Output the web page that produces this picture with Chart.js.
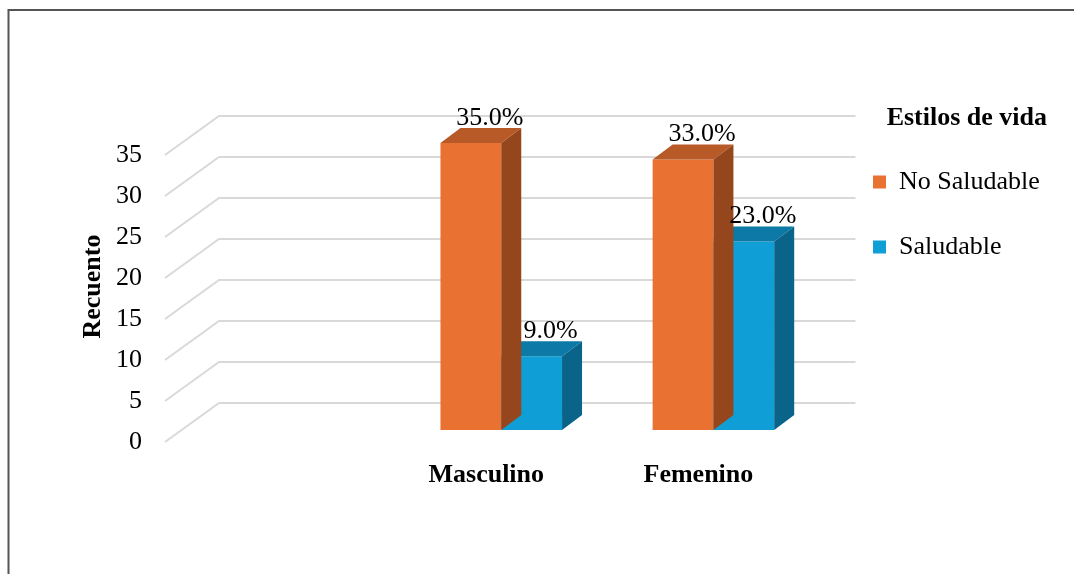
<!DOCTYPE html>
<html>
<head>
<meta charset="utf-8">
<script src="https://cdn.jsdelivr.net/npm/chart.js@4.4.1/dist/chart.umd.min.js"></script>
<style>
  html, body { margin: 0; padding: 0; background: #fff; }
  #wrap { width: 1074px; height: 574px; }
</style>
</head>
<body>
<div id="wrap"><canvas id="chart" width="1074" height="574"></canvas></div>
<script>
// --- datos ---
const categories = ['', 'Masculino', 'Femenino'];
const seriesNames = ['No Saludable', 'Saludable'];
const noSaludable = [null, 35, 33];
const saludable = [null, 9, 23];
const yMin = 0;
const yMax = 35;
const yStep = 5;

// --- colores ---
const ORANGE = '#E97132';
const BLUE = '#0F9ED5';
const SHADES = [
    { top: '#B75A28', side: '#96461C' },
    { top: '#0C79A6', side: '#0A6489' }
];
const GRID_COLOR = '#D9D9D9';
const FONT_SIZE = 26;

// profundidad del "3D"
const FLOOR_FRONT = { dx: -18, dy: 12 };
const FLOOR_BACK = { dx: 36, dy: -27 };
const BAR_DEPTH = { dx: 20, dy: -15 };

Chart.defaults.font.family = "'Liberation Serif', 'Times New Roman', serif";
Chart.defaults.color = '#000';

// marco de la figura (solo arriba e izquierda, como en la imagen)
const framePlugin = {
    id: 'frame',
    beforeDraw(chart) {
        const ctx = chart.ctx;
        ctx.save();
        ctx.strokeStyle = '#555';
        ctx.lineWidth = 2;
        ctx.beginPath();
        ctx.moveTo(8.5, chart.height);
        ctx.lineTo(8.5, 10);
        ctx.lineTo(chart.width, 10);
        ctx.stroke();
        ctx.restore();
    }
};

// rejilla en la pared del fondo + diagonales del suelo
const gridPlugin = {
    id: 'grid3d',
    beforeDatasetsDraw(chart) {
        const ctx = chart.ctx;
        const yS = chart.scales.y;
        const { left, right } = chart.chartArea;
        ctx.save();
        ctx.strokeStyle = GRID_COLOR;
        ctx.lineWidth = 2;
        yS.ticks.forEach(t => {
            const y = yS.getPixelForValue(t.value);
            ctx.beginPath();
            ctx.moveTo(left + FLOOR_FRONT.dx, y + FLOOR_FRONT.dy);
            ctx.lineTo(left + FLOOR_BACK.dx, y + FLOOR_BACK.dy);
            ctx.lineTo(right + FLOOR_BACK.dx, y + FLOOR_BACK.dy);
            ctx.stroke();
        });
        ctx.restore();
    }
};

// caras superior y lateral de cada barra
const bar3dPlugin = {
    id: 'bar3d',
    afterDatasetDraw(chart, args) {
        const ctx = chart.ctx;
        const ds = chart.data.datasets[args.index];
        const shade = SHADES[args.index];
        const poly = (pts, color) => {
            ctx.beginPath();
            ctx.moveTo(pts[0][0], pts[0][1]);
            pts.slice(1).forEach(p => ctx.lineTo(p[0], p[1]));
            ctx.closePath();
            ctx.fillStyle = color;
            ctx.fill();
        };
        ctx.save();
        args.meta.data.forEach((bar, i) => {
            if (ds.data[i] == null) return;
            const { x, y, base, width } = bar.getProps(['x', 'y', 'base', 'width'], true);
            const l = x - width / 2, r = x + width / 2;
            const d = BAR_DEPTH;
            poly([[l, y], [l + d.dx, y + d.dy], [r + d.dx, y + d.dy], [r, y]], shade.top);
            poly([[r, y], [r + d.dx, y + d.dy], [r + d.dx, base + d.dy], [r, base]], shade.side);
        });
        ctx.restore();
    }
};

// etiquetas de porcentaje encima de las barras
const labelsPlugin = {
    id: 'valueLabels',
    afterDatasetsDraw(chart) {
        const ctx = chart.ctx;
        ctx.save();
        ctx.font = FONT_SIZE + "px 'Liberation Serif', 'Times New Roman', serif";
        ctx.fillStyle = '#000';
        ctx.textAlign = 'center';
        ctx.textBaseline = 'alphabetic';
        chart.data.datasets.forEach((ds, di) => {
            chart.getDatasetMeta(di).data.forEach((bar, i) => {
                const v = ds.data[i];
                if (v == null) return;
                ctx.fillText(v.toFixed(1) + '%', bar.x + 19, bar.y - 18);
            });
        });
        ctx.restore();
    }
};

new Chart(document.getElementById('chart'), {
    type: 'bar',
    data: {
        labels: categories,
        datasets: [
            {
                label: seriesNames[0],
                data: noSaludable,
                backgroundColor: ORANGE,
                borderWidth: 0,
                xAxisID: 'x',
                yAxisID: 'y',
                clip: false
            },
            {
                label: seriesNames[1],
                data: saludable,
                backgroundColor: BLUE,
                borderWidth: 0,
                xAxisID: 'x',
                yAxisID: 'y',
                clip: false
            }
        ]
    },
    options: {
        responsive: false,
        animation: false,
        categoryPercentage: 0.573,
        barPercentage: 1,
        layout: { padding: { left: 73.4, right: 27, top: 102, bottom: 0 } },
        plugins: {
            tooltip: { enabled: false },
            legend: {
                position: 'right',
                align: 'start',
                maxWidth: 213,
                labels: {
                    boxWidth: 13,
                    boxHeight: 13,
                    padding: 39,
                    color: '#000',
                    font: { size: FONT_SIZE }
                },
                title: {
                    display: true,
                    text: 'Estilos de vida',
                    position: 'end',
                    color: '#000',
                    font: { size: FONT_SIZE, weight: 'bold', lineHeight: 1 },
                    padding: { top: 3, bottom: -1 }
                }
            }
        },
        scales: {
            x: {
                grid: { display: false, drawTicks: false },
                border: { display: false },
                ticks: {
                    color: '#000',
                    font: { size: FONT_SIZE, weight: 'bold', lineHeight: 1.2 },
                    padding: 29.4,
                    labelOffset: -15,
                    maxRotation: 0,
                    autoSkip: false
                },
                afterFit: s => { s.height = 144; }
            },
            y: {
                min: yMin,
                max: yMax,
                grid: { display: false, drawTicks: false },
                border: { display: false },
                ticks: {
                    stepSize: yStep,
                    color: '#000',
                    font: { size: FONT_SIZE },
                    padding: 41,
                    labelOffset: 12
                },
                title: {
                    display: true,
                    text: 'Recuento',
                    color: '#000',
                    font: { size: FONT_SIZE, weight: 'bold', lineHeight: 1.2 },
                    padding: 4
                },
                afterFit: s => { s.width = 109.6; }
            },
            // ejes vacíos: solo reservan espacio (arriba y entre gráfico y leyenda)
            topGap: {
                type: 'linear',
                position: 'top',
                display: true,
                grid: { display: false, drawTicks: false },
                border: { display: false },
                ticks: { display: false },
                afterFit: s => { s.height = 41; }
            },
            gap: {
                type: 'linear',
                position: 'right',
                display: true,
                grid: { display: false, drawTicks: false },
                border: { display: false },
                ticks: { display: false },
                afterFit: s => { s.width = 14.5; }
            }
        }
    },
    plugins: [framePlugin, gridPlugin, bar3dPlugin, labelsPlugin]
});
</script>
</body>
</html>
